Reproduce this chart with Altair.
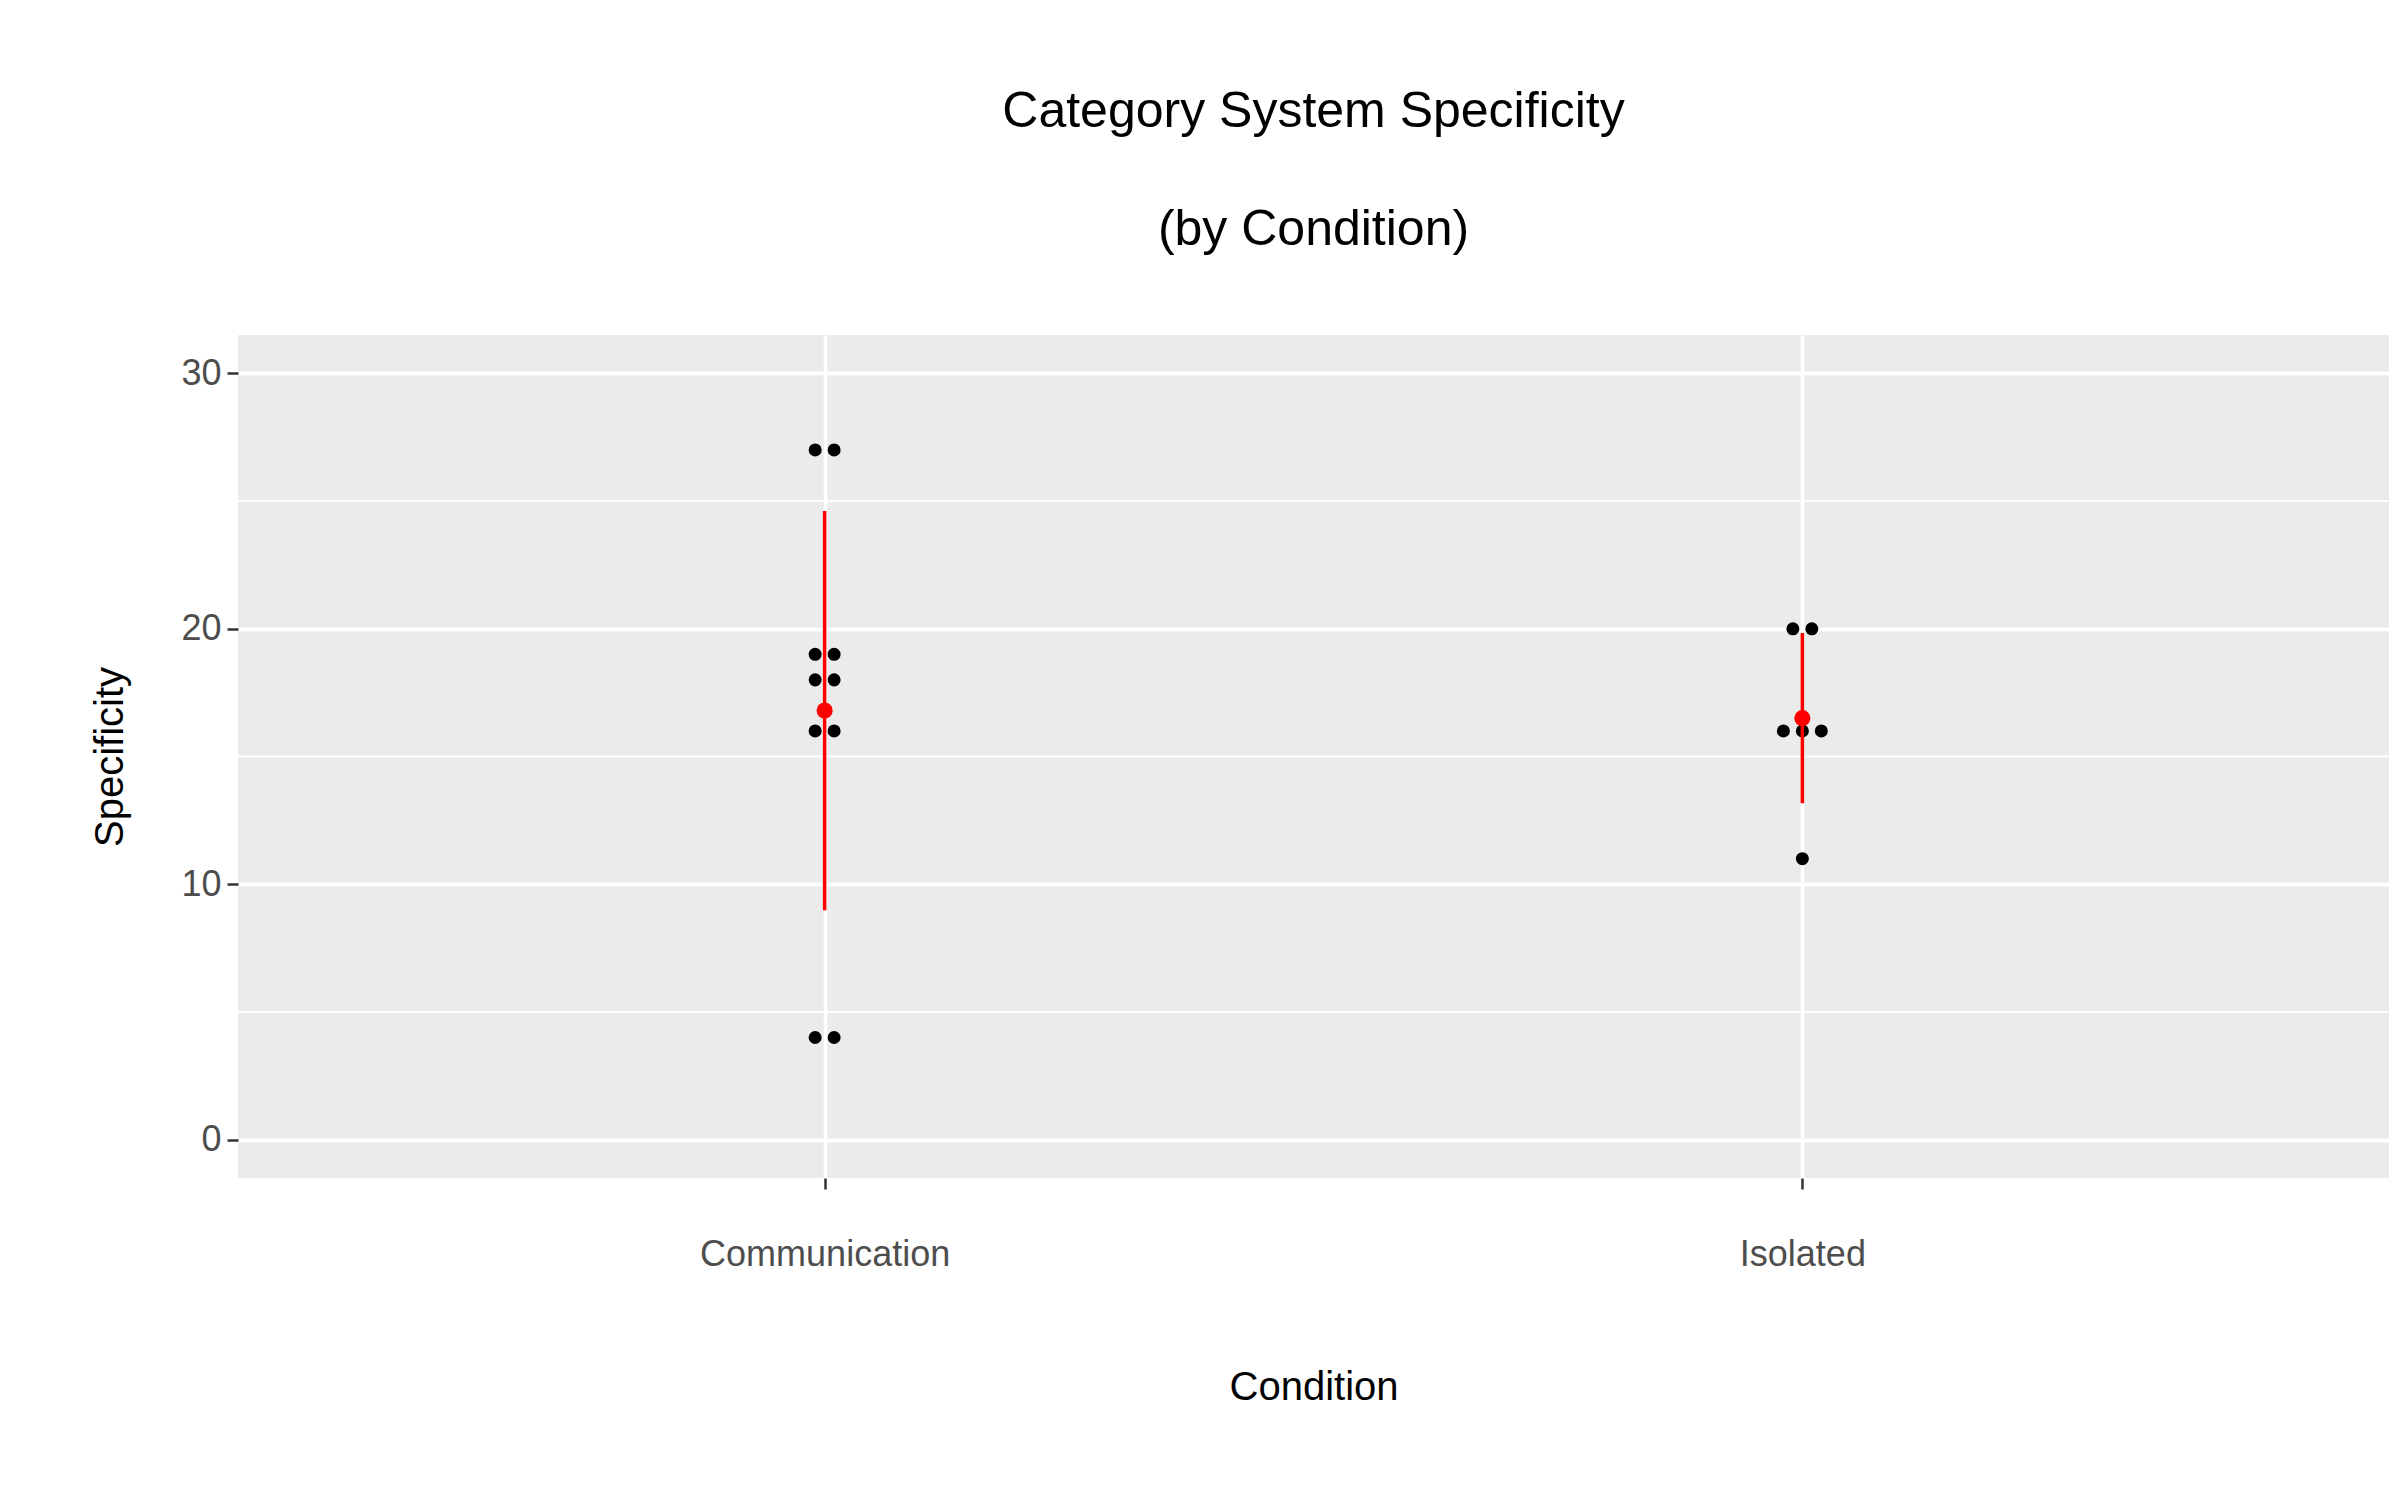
import altair as alt
import pandas as pd

categories = ["Communication", "Isolated"]
conditions = ["Communication"] * 10 + ["Isolated"] * 6
specificity = [27, 27, 19, 19, 18, 18, 16, 16, 4, 4, 20, 20, 16, 16, 16, 11]
minor_grid = [5, 15, 25]

df = pd.DataFrame({"Condition": conditions, "Specificity": specificity})
df["ci"] = df["Condition"].map({c: i for i, c in enumerate(categories)})
# dot-plot stacking index: centred within each (condition, value) group
df["i"] = df.groupby(["Condition", "Specificity"]).cumcount()
df["n"] = df.groupby(["Condition", "Specificity"])["Specificity"].transform("size")
df["k"] = 2 * df["i"] - (df["n"] - 1)
DOT_STEP = 0.0097
df["xpos"] = df["ci"] + df["k"] * DOT_STEP

FONT = "Liberation Sans"
ydom = [-1.5, 31.5]
xsc = alt.Scale(domain=[-0.6, 1.6], nice=False, zero=False)
ysc = alt.Scale(domain=ydom, nice=False, zero=False)

x_axis = alt.Axis(title="Condition", values=[0, 1],
                  labelExpr="datum.value == 0 ? 'Communication' : 'Isolated'",
                  labelLimit=0, grid=True, gridColor="white",
                  gridWidth=3.5, domain=False, tickColor="#333333", tickSize=11,
                  tickWidth=2.5, labelPadding=48, titlePadding=95,
                  labelFontSize=36, labelColor="#4d4d4d", titleFontSize=40,
                  titleFontWeight="normal", labelFont=FONT, titleFont=FONT,
                  titleColor="black")
y_axis = alt.Axis(title="Specificity", values=[0, 10, 20, 30], grid=True, gridColor="white",
                  gridWidth=3.5, domain=False, tickColor="#333333", tickSize=11, tickWidth=2.5,
                  labelPadding=6, titlePadding=50, labelFontSize=36, labelColor="#4d4d4d",
                  titleFontSize=40, titleFontWeight="normal", labelFont=FONT, titleFont=FONT,
                  titleColor="black")

minor = alt.Chart(pd.DataFrame({"v": minor_grid})).mark_rule(color="white", strokeWidth=1.8).encode(
    y=alt.Y("v:Q", scale=ysc, axis=y_axis))

points = alt.Chart(df).mark_circle(color="black", opacity=1, size=170).encode(
    x=alt.X("xpos:Q", scale=xsc, axis=x_axis),
    y=alt.Y("Specificity:Q", scale=ysc),
)

err = alt.Chart(df).mark_errorbar(extent="stdev", color="red", thickness=3.5).encode(
    x=alt.X("ci:Q", scale=xsc),
    y=alt.Y("Specificity:Q", scale=ysc),
)

mean = alt.Chart(df).mark_circle(color="red", opacity=1, size=260).encode(
    x=alt.X("ci:Q", scale=xsc),
    y=alt.Y("mean(Specificity):Q", scale=ysc),
)

chart = alt.layer(minor, points, err, mean).properties(
    width=2151, height=843,
    title=alt.TitleParams(["Category System Specificity", "(by Condition)"], fontSize=50,
                          font=FONT, fontWeight="normal", lineHeight=118, offset=80,
                          anchor="middle", color="black"),
    autosize=alt.AutoSizeParams(type="none"),
    padding={"left": 230, "top": 327, "right": 3, "bottom": 314},
).configure(background="white").configure_view(fill="#ebebeb", stroke=None)

chart.save("out.html", embed_options={"renderer": "svg", "actions": False})
